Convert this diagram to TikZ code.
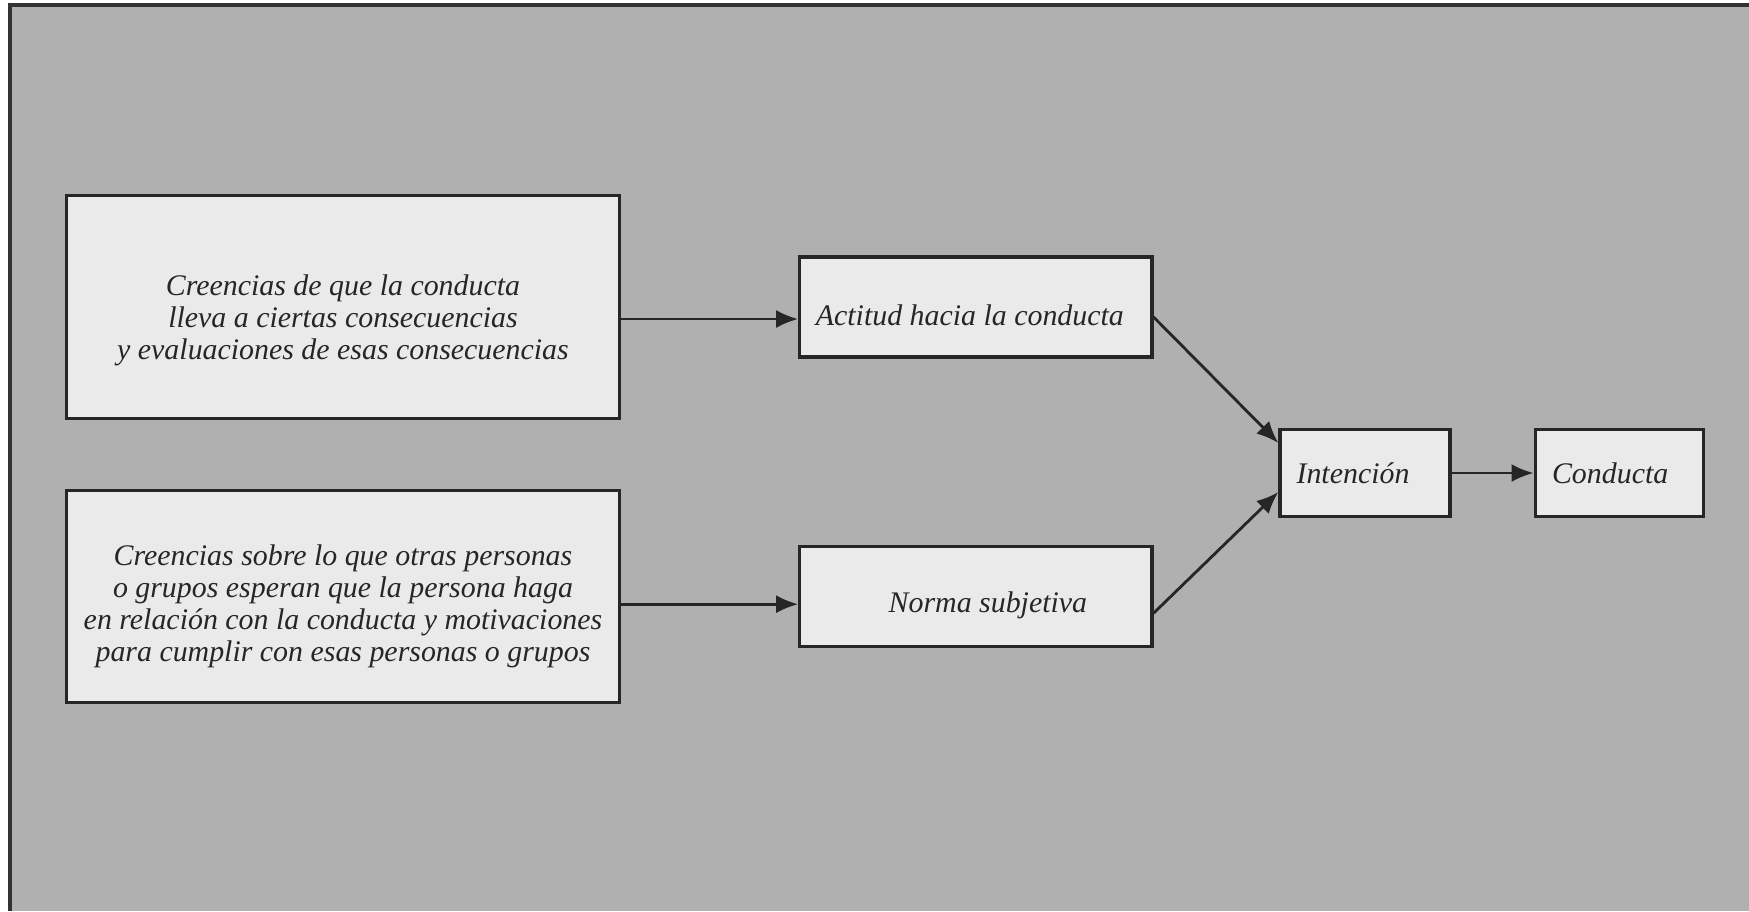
\documentclass[tikz,border=0pt]{standalone}
\usepackage{fontspec}
\setmainfont{Liberation Serif}
\usetikzlibrary{arrows.meta}
\definecolor{bggray}{RGB}{176,176,176}
\definecolor{boxgray}{RGB}{234,234,234}
\begin{document}
\begin{tikzpicture}[->, >={Latex[length=2.2mm,width=1.8mm]}, x=0.01cm, y=-0.01cm,
  main node/.style={rectangle, draw=black!85, fill=boxgray, line width=0.9pt, inner sep=0pt},
  box text/.style={align=center, text=black!85}]
            \tikzstyle{every node}=[font=\fontsize{8.5}{9.1}\selectfont\itshape]

              \useasboundingbox (0,0) rectangle (1749,911);
              \fill[bggray] (10,5) rectangle (1749,911);
              \draw[-, draw=black!80, line width=1pt] (10,911) -- (10,5) -- (1749,5);

              \node[main node, minimum width=5.52cm, minimum height=2.23cm,
                label={[box text, yshift=-1.3mm]center:{Creencias de que la conducta\\ lleva a ciertas consecuencias\\ y evaluaciones de esas consecuencias}}] (1) at (343,307) {};
              \node[main node, minimum width=5.52cm, minimum height=2.12cm,
                label={[box text, yshift=-1mm]center:{Creencias sobre lo que otras personas\\ o grupos esperan que la persona haga\\ en relación con la conducta y motivaciones\\ para cumplir con esas personas o grupos}}] (2) [below of=1, node distance=2.89cm] {};
              \node[main node, minimum width=3.52cm, minimum height=1cm,
                label={[box text, yshift=-0.8mm, xshift=-0.6mm]center:{Actitud hacia la conducta}}] (3) [right of=1, node distance=6.325cm] {};
              \node[main node, minimum width=3.52cm, minimum height=1cm,
                label={[box text, yshift=-0.9mm, xshift=1.2mm]center:{Norma subjetiva}}] (4) [right of=2, node distance=6.325cm] {};
              \node[main node, minimum width=1.7cm, minimum height=0.87cm,
                label={[box text, xshift=-1.2mm]center:{Intención}}] (5) at (1365,473) {};
              \node[main node, minimum width=1.68cm, minimum height=0.87cm,
                label={[box text, xshift=-0.9mm]center:{Conducta}}] (6) [right of=5, node distance=2.54cm] {};

              \path[every edge/.style={draw, line width=0.8pt, black!85}]
                ([yshift=-1.2mm]1.east) edge ([yshift=-1.2mm]3.west)
                ([yshift=-0.8mm]2.east) edge ([yshift=-0.8mm]4.west)
                ([yshift=-1mm]3.east) edge ([yshift=3mm]5.west)
                ([yshift=-1.7mm]4.east) edge ([yshift=-1.9mm]5.west)
                (5) edge (6);

            \end{tikzpicture}
\end{document}
